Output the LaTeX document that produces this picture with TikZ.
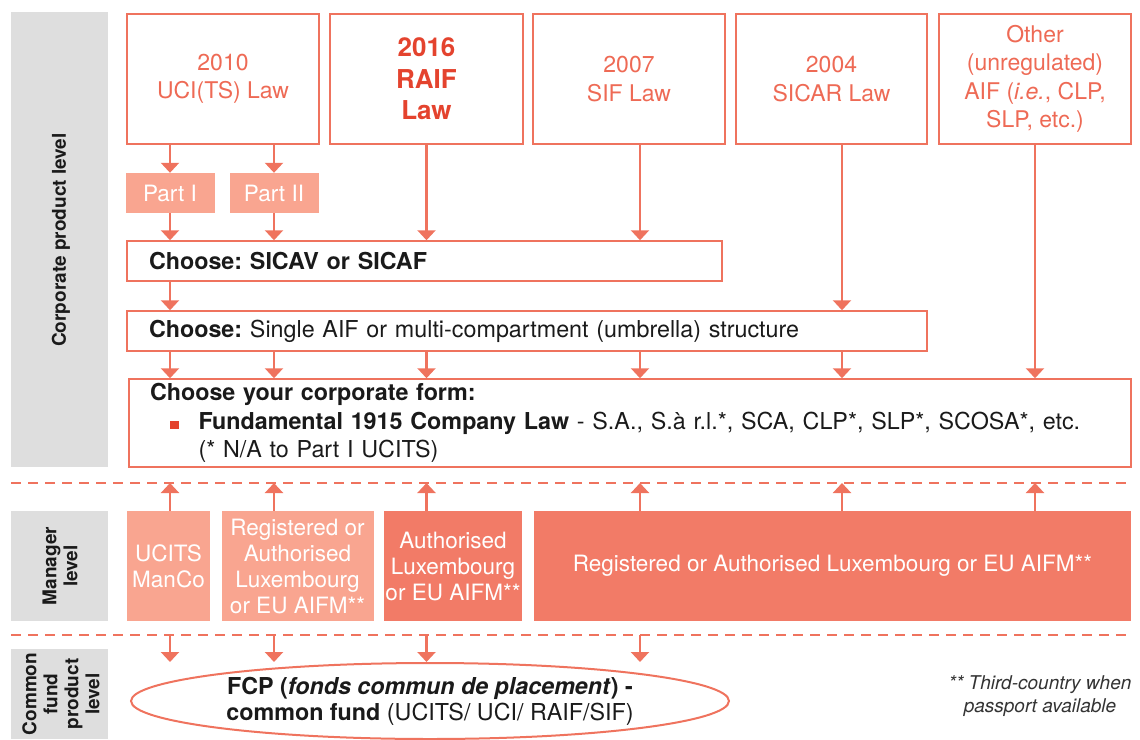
\documentclass[tikz,border=0pt]{standalone}
\usepackage{fontspec}
\setmainfont{TeX Gyre Heros}
\usetikzlibrary{arrows.meta,shapes.geometric}
\definecolor{salmon}{HTML}{EF735E}
\definecolor{lightsalmon}{HTML}{F9A590}
\definecolor{darksalmon}{HTML}{F27B67}
\definecolor{toptext}{HTML}{EE6A55}
\definecolor{raifred}{HTML}{E4432E}
\definecolor{panel}{HTML}{DEDEDE}
\definecolor{ink}{HTML}{1A1A1A}
\definecolor{noteink}{HTML}{333333}
\newcommand{\myfs}[2]{\fontsize{#1}{#2}\selectfont}
\frenchspacing
\begin{document}
\begin{tikzpicture}[x=1pt,y=-1pt,
  topbox/.style={draw=salmon, line width=1.5pt, minimum width=192pt, minimum height=130pt,
    inner sep=0pt, align=center, text=toptext, font=\myfs{23}{28.5}},
  partbox/.style={fill=lightsalmon, text=white, minimum width=89pt, minimum height=40pt,
    inner sep=0pt, font=\myfs{22.5}{26}},
  choicebox/.style={draw=salmon, line width=1.5pt, inner xsep=22pt, inner ysep=0pt,
    minimum height=40pt, align=left, text=ink, font=\myfs{23.3}{28}},
  mgrlight/.style={fill=lightsalmon, text=white, minimum height=110pt, inner sep=0pt,
    align=center, font=\myfs{22.5}{26}},
  mgrdark/.style={mgrlight, fill=darksalmon},
  sidelabel/.style={text=ink, align=center, font=\bfseries\myfs{19}{21}, rotate=90},
  arr/.style={draw=salmon, line width=2.2pt, -{Triangle[width=18pt,length=10pt]}},
  dashline/.style={draw=salmon, line width=2pt, dash pattern=on 10pt off 7pt}]
\useasboundingbox (0,0) rectangle (1140,739);

% side panels
\fill[panel] (11,12) rectangle (108,467);
\fill[panel] (11,511) rectangle (108,621);
\fill[panel] (11,649) rectangle (108,739);
\node[sidelabel] (lblcorp) at (61,240) {Corporate product level};
\node[sidelabel] (lblmgr) at (60,566) {Manager\\level};
\node[sidelabel] (lblfund) at (61,694) {Common\\fund\\product\\level};

% dashed separators
\coordinate (dA) at (0,483);
\coordinate (dB) at (0,635);
\coordinate (fcpTop) at (0,662);
\draw[dashline] (11,483) -- (1132,483);
\draw[dashline] (11,635) -- (1132,635);

% top law boxes
\node[topbox] (law2010) at (223,79) {2010\\UCI(TS) Law};
\node[topbox, minimum width=193pt, text=raifred, font=\bfseries\myfs{26}{31.5}] (raif) at (426.5,79) {2016\\RAIF\\Law};
\node[topbox] (sif) at (629,79) {2007\\SIF Law};
\node[topbox, minimum width=191pt] (sicar) at (831.5,79) {2004\\SICAR Law};
\node[topbox] (other) at (1035,79) {Other\\(unregulated)\\AIF (\textit{i.e.}, CLP,\\SLP, etc.)};

% parts
\node[partbox] (part1) at (170,193) {Part I};
\node[partbox] (part2) at (274,193) {Part II};

% choice boxes
\node[choicebox, text width=551pt] (sicav) at (424.5,261) {\textbf{Choose: SICAV or SICAF}};
\node[choicebox, text width=756pt] (umbrella) at (527,331) {\textbf{Choose:} Single AIF or multi-compartment (umbrella) structure};
\node[choicebox, inner xsep=21pt, text width=960pt, minimum height=88pt, font=\myfs{23.3}{28.5}] (corp) at (630,423)
 {\textbf{Choose your corporate form:}\\
  \hspace*{20pt}{\color{raifred}\rule{8.5pt}{8.5pt}}\hspace*{20pt}\textbf{Fundamental 1915 Company Law} - S.A., S.à r.l.*, SCA, CLP*, SLP*, SCOSA*, etc.\\
  \hspace*{48.5pt}(* N/A to Part I UCITS)};

% column coordinates
\coordinate (cD) at (640,0);
\coordinate (cE) at (842,0);

% arrows, corporate level
\draw[arr] (law2010.south -| part1) -- (part1.north);
\draw[arr] (law2010.south -| part2) -- (part2.north);
\draw[arr] (part1.south) -- (part1.south |- sicav.north);
\draw[arr] (part2.south) -- (part2.south |- sicav.north);
\draw[arr] (raif.south) -- (raif.south |- sicav.north);
\draw[arr] (sif.south -| cD) -- (sicav.north -| cD);
\draw[arr] (sicar.south -| cE) -- (umbrella.north -| cE);
\draw[arr] (other.south) -- (other.south |- corp.north);
\draw[arr] (sicav.south -| part1) -- (umbrella.north -| part1);
\foreach \c in {part1,part2,raif,cD,cE}
  \draw[arr] (umbrella.south -| \c) -- (corp.north -| \c);

% manager level
\node[mgrlight, minimum width=83pt] (ucits) at (168.5,566) {UCITS\\ManCo};
\node[mgrlight, minimum width=152pt] (regaut) at (297.5,566) {Registered or\\Authorised\\Luxembourg\\or EU AIFM**};
\node[mgrdark, minimum width=138pt] (auth) at (453,566) {Authorised\\Luxembourg\\or EU AIFM**};
\node[mgrdark, minimum width=597pt] (regeu) at (832.5,566) {Registered or Authorised Luxembourg or EU AIFM**};

\draw[arr] (ucits.north -| part1) -- (dA -| part1);
\draw[arr] (regaut.north -| part2) -- (dA -| part2);
\draw[arr] (auth.north -| raif) -- (dA -| raif);
\draw[arr] (regeu.north -| cD) -- (dA -| cD);
\draw[arr] (regeu.north -| cE) -- (dA -| cE);
\draw[arr] (regeu.north -| other) -- (dA -| other);

% common fund level
\foreach \c in {part1,part2,raif,cD}
  \draw[arr] (dB -| \c) -- (fcpTop -| \c);

\node[ellipse, draw=salmon, line width=2pt, minimum width=598pt, minimum height=76pt, inner sep=0pt,
  align=center, text=ink, font=\myfs{23.3}{26}] (fcp) at (430,701)
  {\textbf{FCP (\textit{fonds commun de placement}) -}\\\textbf{common fund} (UCITS/ UCI/ RAIF/SIF)};

\node[text=noteink, align=center, font=\itshape\myfs{19}{23}] (note) at (1040,696)
  {** Third-country when\\passport available};
\end{tikzpicture}
\end{document}
